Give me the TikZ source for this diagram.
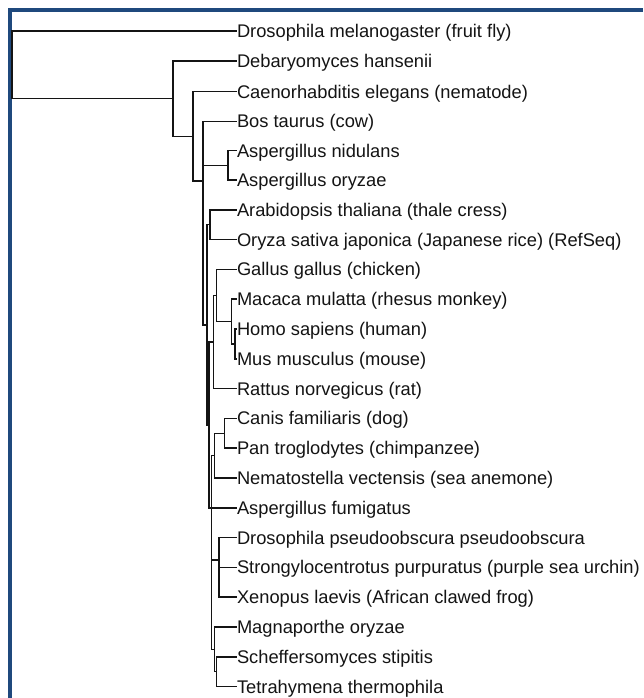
\documentclass[tikz,border=0pt]{standalone}
\usepackage{fontspec}
\setmainfont{Liberation Sans}
\definecolor{frameblue}{HTML}{1F497D}
\definecolor{ink}{HTML}{141414}
\begin{document}
\begin{tikzpicture}[x=1pt,y=-1pt,
  edge/.style={draw=ink,line width=1.5pt},
  leaf/.style={anchor=west,inner sep=0pt,outer sep=0pt,text=ink,
    text height=13pt,text depth=0pt,font=\fontsize{18.3}{22}\selectfont}]
\useasboundingbox (0,0) rectangle (643,698);
\clip (0,0) rectangle (643,698);
\fill[white] (0,0) rectangle (643,698);
\fill[frameblue] (7.5,8) rectangle (11.5,698);
\fill[frameblue] (7.5,8) rectangle (643,12);
% leaves
\node[leaf] (t0) at (237,31) {Drosophila melanogaster (fruit fly)};
\node[leaf] (t1) at (237,60.8) {Debaryomyces hansenii};
\node[leaf] (t2) at (237,91.6) {Caenorhabditis elegans (nematode)};
\node[leaf] (t3) at (237,121.4) {Bos taurus (cow)};
\node[leaf] (t4) at (237,150.7) {Aspergillus nidulans};
\node[leaf] (t5) at (237,180) {Aspergillus oryzae};
\node[leaf] (t6) at (237,209.8) {Arabidopsis thaliana (thale cress)};
\node[leaf] (t7) at (237,239.6) {Oryza sativa japonica (Japanese rice) (RefSeq)};
\node[leaf] (t8) at (237,269.4) {Gallus gallus (chicken)};
\node[leaf] (t9) at (237,299.2) {Macaca mulatta (rhesus monkey)};
\node[leaf] (t10) at (237,329) {Homo sapiens (human)};
\node[leaf] (t11) at (237,358.8) {Mus musculus (mouse)};
\node[leaf] (t12) at (237,388.6) {Rattus norvegicus (rat)};
\node[leaf] (t13) at (237,418.4) {Canis familiaris (dog)};
\node[leaf] (t14) at (237,448.2) {Pan troglodytes (chimpanzee)};
\node[leaf] (t15) at (237,478) {Nematostella vectensis (sea anemone)};
\node[leaf] (t16) at (237,507.8) {Aspergillus fumigatus};
\node[leaf] (t17) at (237,537.6) {Drosophila pseudoobscura pseudoobscura};
\node[leaf] (t18) at (237,567.4) {Strongylocentrotus purpuratus (purple sea urchin)};
\node[leaf] (t19) at (237,597.2) {Xenopus laevis (African clawed frog)};
\node[leaf] (t20) at (237,627) {Magnaporthe oryzae};
\node[leaf] (t21) at (237,656.8) {Scheffersomyces stipitis};
\node[leaf] (t22) at (237,686.6) {Tetrahymena thermophila};
% internal nodes
\coordinate (n0) at (12,64.65);
\coordinate (n1) at (173,98.3);
\coordinate (n2) at (193,136.3);
\coordinate (n3) at (203,181);
\coordinate (p1) at (228,165.3);
\coordinate (n4) at (207,324.8);
\coordinate (p2) at (210,224.7);
\coordinate (n5) at (209,424.9);
\coordinate (r)  at (213.3,342.05);
\coordinate (g)  at (216.7,295.5);
\coordinate (mhm) at (231.7,321.55);
\coordinate (hm) at (235,343.9);
\coordinate (n6) at (211.7,507.8);
\coordinate (cpn) at (214.5,455.65);
\coordinate (cp) at (224.5,433.3);
\coordinate (dsx) at (219,559.95);
\coordinate (sx) at (219,582.3);
\coordinate (mst) at (214.7,649.35);
\coordinate (st) at (216.3,671.7);
% edges
\draw[edge] (n0) |- (t0.west);
\draw[edge] (n0) |- (n1);
\draw[edge] (n1) |- (t1.west);
\draw[edge] (n1) |- (n2);
\draw[edge] (n2) |- (t2.west);
\draw[edge] (n2) |- (n3);
\draw[edge] (n3) |- (t3.west);
\draw[edge] (n3) |- (p1);
\draw[edge] (n3) |- (n4);
\draw[edge] (p1) |- (t4.west);
\draw[edge] (p1) |- (t5.west);
\draw[edge] (n4) |- (p2);
\draw[edge] (n4) |- (n5);
\draw[edge] (p2) |- (t6.west);
\draw[edge] (p2) |- (t7.west);
\draw[edge] (n5) |- (r);
\draw[edge] (n5) |- (n6);
\draw[edge] (r) |- (g);
\draw[edge] (r) |- (t12.west);
\draw[edge] (g) |- (t8.west);
\draw[edge] (g) |- (mhm);
\draw[edge] (mhm) |- (t9.west);
\draw[edge] (mhm) |- (hm);
\draw[edge] (hm) |- (t10.west);
\draw[edge] (hm) |- (t11.west);
\draw[edge] (n6) |- (cpn);
\draw[edge] (n6) |- (t16.west);
\draw[edge] (n6) |- (dsx);
\draw[edge] (n6) |- (mst);
\draw[edge] (cpn) |- (cp);
\draw[edge] (cpn) |- (t15.west);
\draw[edge] (cp) |- (t13.west);
\draw[edge] (cp) |- (t14.west);
\draw[edge] (dsx) |- (t17.west);
\draw[edge] (dsx) |- (sx);
\draw[edge] (sx) |- (t18.west);
\draw[edge] (sx) |- (t19.west);
\draw[edge] (mst) |- (t20.west);
\draw[edge] (mst) |- (st);
\draw[edge] (st) |- (t21.west);
\draw[edge] (st) |- (t22.west);
\end{tikzpicture}
\end{document}
